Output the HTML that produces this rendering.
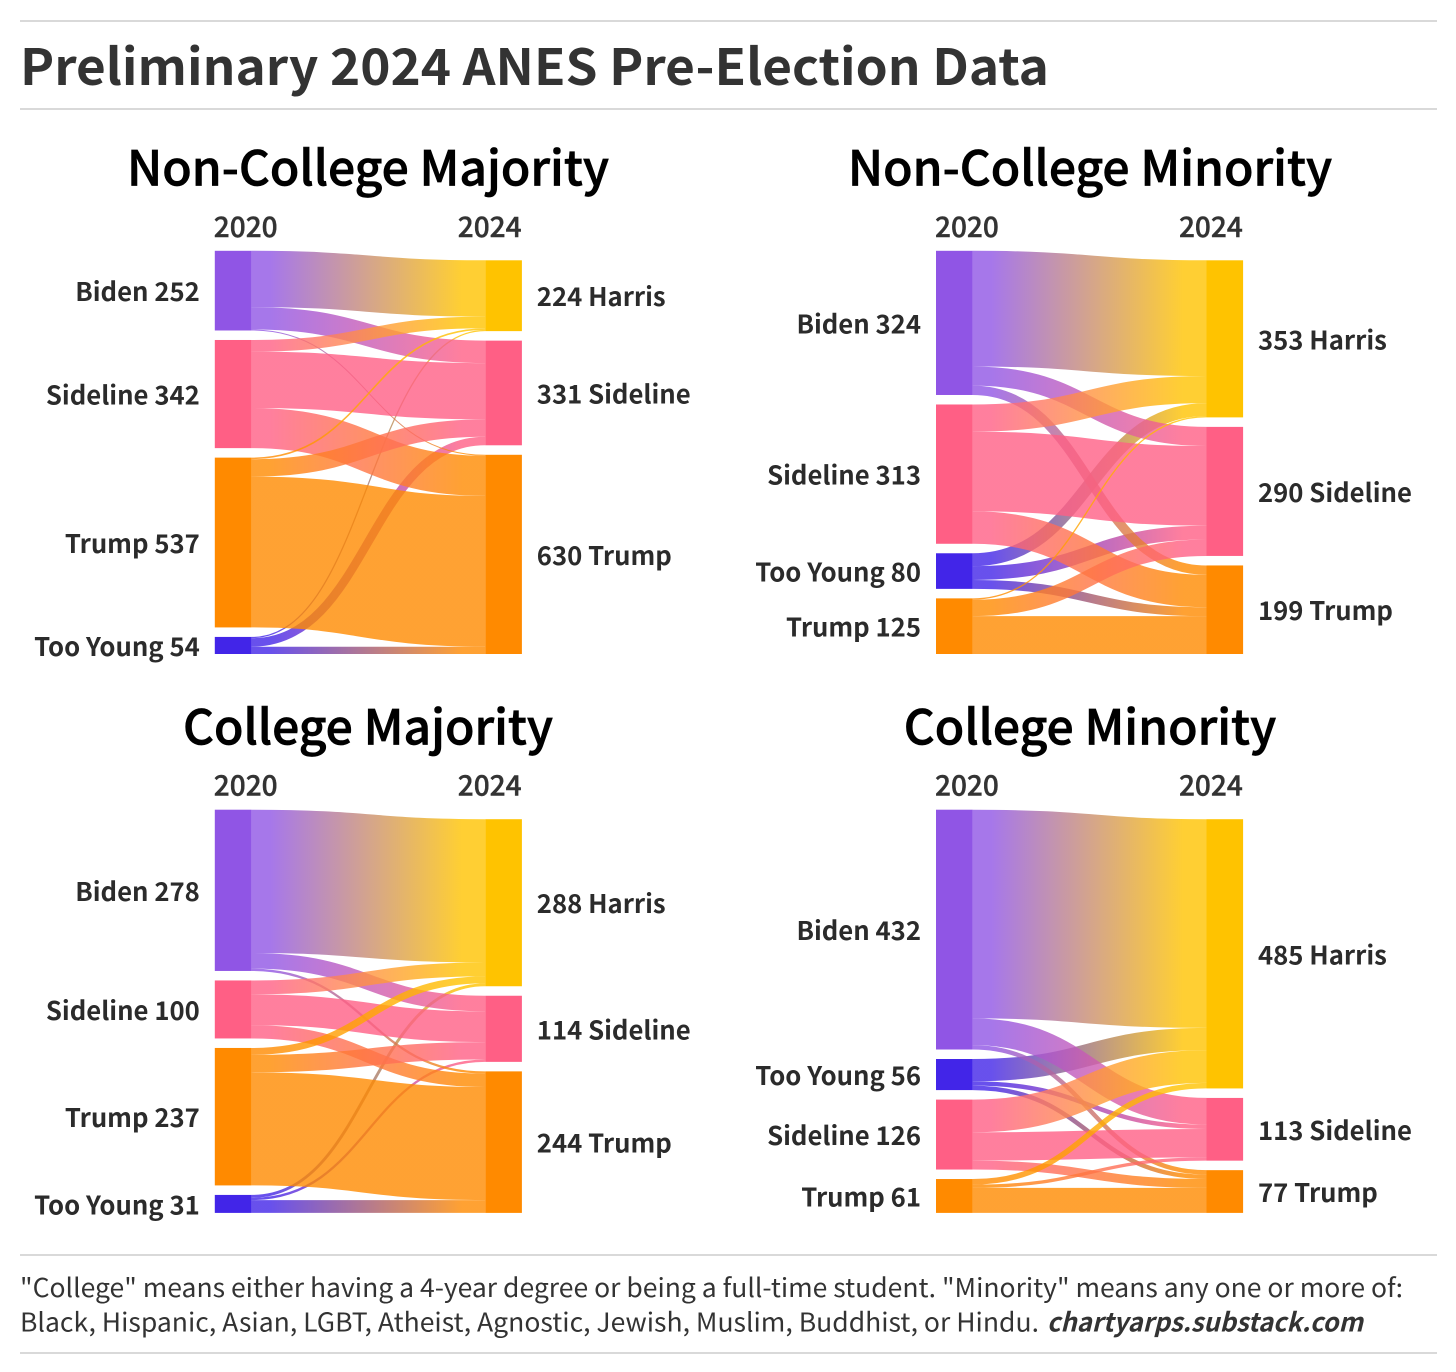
<!DOCTYPE html>
<html lang="en">
<head>
<meta charset="utf-8">
<title>Preliminary 2024 ANES Pre-Election Data</title>
<style>
html,body{margin:0;padding:0;background:#fff;}
svg{display:block;}
text{font-family:"Noto Sans CJK SC","Liberation Sans",sans-serif;}
.main{font-size:50px;font-weight:700;fill:#333;}
.ct{font-size:48px;font-weight:500;fill:#000;stroke:#000;stroke-width:0.7px;text-anchor:middle;}
.yr{font-size:28px;font-weight:500;fill:#333;stroke:#333;stroke-width:0.4px;}
.lb{font-size:25.7px;font-weight:700;fill:#2b2b2b;dominant-baseline:central;}
.ft{font-size:26px;font-weight:400;fill:#333;}
.cr{font-size:26px;font-weight:700;font-style:italic;fill:#333;}
</style>
</head>
<body>
<svg id="page" xmlns="http://www.w3.org/2000/svg" width="1456" height="1372" viewBox="0 0 1456 1372">
  <rect width="1456" height="1372" fill="#fff"/>
  <line x1="20" x2="1437" y1="21" y2="21" stroke="#d9d9d9" stroke-width="2"/>
  <text class="main" x="20" y="85" textLength="1029" lengthAdjust="spacingAndGlyphs">Preliminary 2024 ANES Pre-Election Data</text>
  <line x1="20" x2="1437" y1="109" y2="109" stroke="#d9d9d9" stroke-width="2"/>
  <line x1="20" x2="1437" y1="1255" y2="1255" stroke="#d9d9d9" stroke-width="2"/>
  <text class="ft" x="20" y="1297" textLength="1383" lengthAdjust="spacingAndGlyphs">"College" means either having a 4-year degree or being a full-time student. "Minority" means any one or more of:</text>
  <text class="ft" x="20" y="1331.5" textLength="1019" lengthAdjust="spacingAndGlyphs">Black, Hispanic, Asian, LGBT, Atheist, Agnostic, Jewish, Muslim, Buddhist, or Hindu.</text>
  <text class="cr" x="1047" y="1331.5" textLength="316" lengthAdjust="spacingAndGlyphs">chartyarps.substack.com</text>
  <line x1="20" x2="1437" y1="1353" y2="1353" stroke="#d9d9d9" stroke-width="2"/>
  <defs id="grads"></defs>
</svg>
<script>
const nonCollegeMajoritySources = ['Biden','Sideline','Trump','Too Young'];
const nonCollegeMajorityTargets = ['Harris','Sideline','Trump'];
const nonCollegeMajorityFlows = [[178,71,3],[37,178,127],[5,55,477],[4,27,23]];

const nonCollegeMinoritySources = ['Biden','Sideline','Too Young','Trump'];
const nonCollegeMinorityTargets = ['Harris','Sideline','Trump'];
const nonCollegeMinorityFlows = [[260,43,21],[61,179,73],[29,31,20],[3,37,85]];

const collegeMajoritySources = ['Biden','Sideline','Trump','Too Young'];
const collegeMajorityTargets = ['Harris','Sideline','Trump'];
const collegeMajorityFlows = [[247,27,4],[24,53,23],[12,30,195],[5,4,22]];

const collegeMinoritySources = ['Biden','Too Young','Sideline','Trump'];
const collegeMinorityTargets = ['Harris','Sideline','Trump'];
const collegeMinorityFlows = [[376,48,8],[40,8,8],[59,51,16],[10,6,45]];

const yearLabels = ['2020','2024'];
const layerOrder = ['Too Young','Biden','Sideline','Trump'];

const NODE_COLORS = {Biden:'#9055E5',Sideline:'#FF5F85',Trump:'#FF8A00','Too Young':'#4225E8',Harris:'#FFC300'};
const NS = 'http://www.w3.org/2000/svg';
const svg = document.getElementById('page');
const defs = document.getElementById('grads');
const H = 403.2, GAP = 9.5, NODE_W = 36.6, T_OFF = 270.5;

function make(tag, attrs, parent, txt){
  const el = document.createElementNS(NS, tag);
  for (const k in attrs) el.setAttribute(k, attrs[k]);
  if (txt !== undefined) el.textContent = txt;
  (parent || svg).appendChild(el);
  return el;
}
function slug(s){ return s.toLowerCase().replace(/\s+/g,'-'); }

let gid = 0;
function drawChart(title, cx, x0, y0, sources, targets, flows){
  const chartSlug = slug(title);
  const group = make('g', {});
  
  

  const titleEl = make('text', {class:'ct', x:cx, y:y0-65.2}, group, title);
  
  

  const y1 = make('text', {class:'yr', x:x0-1, y:y0-14}, group, yearLabels[0]);
  
  
  const y2 = make('text', {class:'yr', x:x0+306.8, y:y0-14, 'text-anchor':'end'}, group, yearLabels[1]);
  
  

  const srcTotals = flows.map(r => r.reduce((a,b)=>a+b,0));
  const tgtTotals = targets.map((_,j) => flows.reduce((a,r)=>a+r[j],0));
  const total = srcTotals.reduce((a,b)=>a+b,0);
  const scale = (H - GAP*(sources.length-1)) / total;
  const tx = x0 + T_OFF;
  const linkStart = x0 + NODE_W, linkEnd = tx;

  const srcY = [], tgtY = [];
  let y = y0;
  srcTotals.forEach(t => { srcY.push(y); y += t*scale + GAP; });
  y = y0 + GAP*(sources.length-targets.length);
  tgtTotals.forEach(t => { tgtY.push(y); y += t*scale + GAP; });

  // compute link geometry, then layer by source group
  const inOffset = targets.map(()=>0);
  const links = [];
  flows.forEach((row,i) => {
    let outOffset = 0;
    row.forEach((v,j) => {
      const w = v*scale;
      links.push({i, j, v, w, ya:srcY[i]+outOffset+w/2, yb:tgtY[j]+inOffset[j]+w/2});
      outOffset += w; inOffset[j] += w;
    });
  });
  links.sort((a,b) => (layerOrder.indexOf(sources[a.i]) - layerOrder.indexOf(sources[b.i])) || (a.v - b.v));
  links.forEach(l => {
    const id = 'g' + (gid++);
    const grad = make('linearGradient', {id, gradientUnits:'userSpaceOnUse', x1:linkStart, x2:linkEnd, y1:0, y2:0}, defs);
    make('stop', {offset:'0.08', 'stop-color':NODE_COLORS[sources[l.i]]}, grad);
    make('stop', {offset:'0.9', 'stop-color':NODE_COLORS[targets[l.j]]}, grad);
    const mx = (linkStart + linkEnd)/2;
    const p = make('path', {
      d:`M${linkStart} ${l.ya}C${mx} ${l.ya} ${mx} ${l.yb} ${linkEnd} ${l.yb}`,
      fill:'none', stroke:`url(#${id})`, 'stroke-width':l.w, 'stroke-opacity':0.8
    }, group);
    
    
  });

  // source nodes + labels
  sources.forEach((s,i) => {
    const h = srcTotals[i]*scale;
    const r = make('rect', {x:x0, y:srcY[i], width:NODE_W, height:h, fill:NODE_COLORS[s]}, group);
    
    
    const t = make('text', {class:'lb', x:x0-15, y:srcY[i]+h/2, 'text-anchor':'end'}, group, s + ' ' + srcTotals[i]);
    
    
  });
  // target nodes + labels
  targets.forEach((s,j) => {
    const h = tgtTotals[j]*scale;
    const r = make('rect', {x:tx, y:tgtY[j], width:NODE_W, height:h, fill:NODE_COLORS[s]}, group);
    
    
    const t = make('text', {class:'lb', x:x0+322, y:tgtY[j]+h/2}, group, tgtTotals[j] + ' ' + s);
    
    
  });
}

drawChart('Non-College Majority', 368, 214.8, 250.8, nonCollegeMajoritySources, nonCollegeMajorityTargets, nonCollegeMajorityFlows);
drawChart('Non-College Minority', 1090, 936, 250.8, nonCollegeMinoritySources, nonCollegeMinorityTargets, nonCollegeMinorityFlows);
drawChart('College Majority', 368, 214.8, 809.7, collegeMajoritySources, collegeMajorityTargets, collegeMajorityFlows);
drawChart('College Minority', 1090, 936, 809.7, collegeMinoritySources, collegeMinorityTargets, collegeMinorityFlows);
</script>
</body>
</html>
